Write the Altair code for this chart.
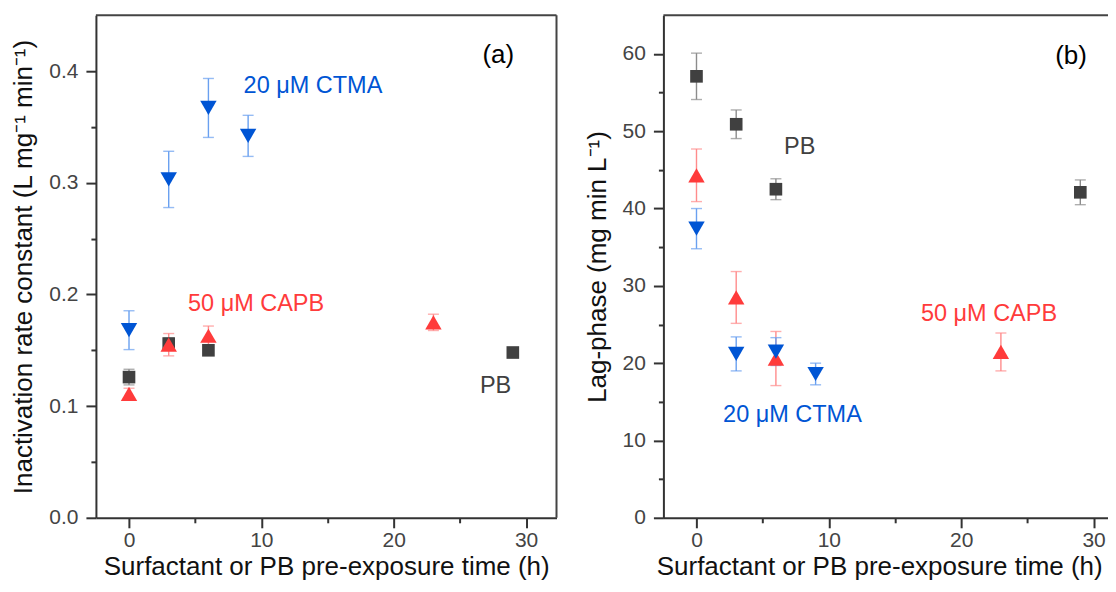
import altair as alt
import pandas as pd

# ---------------- data: panel (a) inactivation rate constant ----------------
time_pb = [0, 3, 6, 29]
time_capb = [0, 3, 6, 23]
time_ctma = [0, 3, 6, 9]

k_pb = [0.126, 0.156, 0.150, 0.148]
k_pb_err = [0.007, 0.005, 0.004, 0.002]
k_capb = [0.111, 0.155, 0.163, 0.175]
k_capb_err = [0.005, 0.010, 0.0087, 0.0073]
k_ctma = [0.168, 0.303, 0.367, 0.342]
k_ctma_err = [0.0174, 0.0252, 0.0264, 0.0184]

# ---------------- data: panel (b) lag-phase ----------------
lag_pb = [57.1, 50.9, 42.5, 42.1]
lag_pb_err = [3.0, 1.85, 1.35, 1.6]
lag_capb = [44.3, 28.5, 20.6, 21.45]
lag_capb_err = [3.4, 3.35, 3.5, 2.45]
lag_ctma = [37.4, 21.2, 21.5, 18.6]
lag_ctma_err = [2.6, 2.2, 1.8, 1.4]

series_names = ["PB", "50 μM CAPB", "20 μM CTMA"]
marker_colors = ["#404040", "#ff3b3b", "#0055d4"]
err_colors = ["#8c8c8c", "#ff8c8c", "#6aa0f0"]
shapes = ["square", "triangle-up", "triangle-down"]
sizes = [160, 270, 270]

# annotation texts and their data positions
labels_a_text = ["(a)", "20 μM CTMA", "50 μM CAPB", "PB"]
labels_a_x = [27.9, 13.9, 9.6, 27.7]
labels_a_y = [0.414, 0.387, 0.1918, 0.1183]
labels_b_text = ["(b)", "PB", "50 μM CAPB", "20 μM CTMA"]
labels_b_x = [28.3, 7.8, 22.1, 7.25]
labels_b_y = [59.7, 48.0, 26.4, 13.3]
label_colors = ["#000000", "#0055d4", "#ff3b3b", "#404040"]
label_colors_b = ["#000000", "#404040", "#ff3b3b", "#0055d4"]
label_sizes = [26, 23.5, 23.5, 23.5]

FONT = "Liberation Sans"
FRAME = "#444444"
W = 461
H = 503


def make_df(times, vals, errs):
    rows = []
    for name, t, v, e in zip(series_names, times, vals, errs):
        for ti, vi, ei in zip(t, v, e):
            rows.append({"series": name, "t": ti, "v": vi, "lo": vi - ei, "hi": vi + ei})
    return pd.DataFrame(rows)


def panel(df, lab_df, ydomain, yvalues, ytitle, ymajor_test, ylabel_fmt, xtitle_x=None):
    xscale = alt.Scale(domain=[-2.5, 32.3], nice=False, zero=False)
    yscale = alt.Scale(domain=ydomain, nice=False, zero=False)
    xaxis_kw = dict(
        values=[0, 5, 10, 15, 20, 25, 30],
        labelExpr="datum.value % 10 === 0 ? datum.label : ''",
        tickSize={"condition": {"test": "datum.value % 10 === 0", "value": 10}, "value": 5},
        title="Surfactant or PB pre-exposure time (h)",
        labelPadding=2, titlePadding=3,
    )
    if xtitle_x is not None:
        xaxis_kw["titleX"] = xtitle_x
    xaxis = alt.Axis(**xaxis_kw)
    yaxis = alt.Axis(
        values=yvalues,
        labelExpr=f"{ymajor_test} ? format(datum.value, '{ylabel_fmt}') : ''",
        tickSize={"condition": {"test": ymajor_test, "value": 10}, "value": 5},
        title=ytitle,
        labelPadding=8, titlePadding=12,
    )
    layers = []
    one = pd.DataFrame({"k": [0]})
    # frame: top and right borders
    layers.append(alt.Chart(one).mark_rule(color=FRAME, strokeWidth=2).encode(
        x=alt.value(0), x2=alt.value(W), y=alt.value(0)))
    layers.append(alt.Chart(one).mark_rule(color=FRAME, strokeWidth=2).encode(
        x=alt.value(W), y=alt.value(0), y2=alt.value(H)))
    for name, ec in zip(series_names, err_colors):
        sub = df[df["series"] == name]
        base = alt.Chart(sub)
        layers.append(base.mark_rule(color=ec, strokeWidth=1.4).encode(
            x=alt.X("t:Q", scale=xscale, axis=xaxis),
            y=alt.Y("lo:Q", scale=yscale, axis=yaxis),
            y2="hi:Q"))
        layers.append(base.mark_tick(color=ec, orient="horizontal", size=11, thickness=1.4).encode(
            x="t:Q", y="lo:Q"))
        layers.append(base.mark_tick(color=ec, orient="horizontal", size=11, thickness=1.4).encode(
            x="t:Q", y="hi:Q"))
    for name, mc, sh, sz in zip(series_names, marker_colors, shapes, sizes):
        sub = df[df["series"] == name]
        layers.append(alt.Chart(sub).mark_point(shape=sh, filled=True, size=sz, color=mc, opacity=1).encode(
            x="t:Q", y="v:Q"))
    layers.append(alt.Chart(lab_df).mark_text(font=FONT, align="center", baseline="middle").encode(
        x="x:Q", y="y:Q", text="text:N",
        color=alt.Color("color:N", scale=None),
        size=alt.Size("size:Q", scale=None)))
    return alt.layer(*layers).properties(width=W, height=H)


df_a = make_df([time_pb, time_capb, time_ctma], [k_pb, k_capb, k_ctma], [k_pb_err, k_capb_err, k_ctma_err])
df_b = make_df([time_pb, time_capb, time_ctma], [lag_pb, lag_capb, lag_ctma], [lag_pb_err, lag_capb_err, lag_ctma_err])

lab_a = pd.DataFrame({"text": labels_a_text, "x": labels_a_x, "y": labels_a_y,
                      "color": label_colors, "size": label_sizes})
lab_b = pd.DataFrame({"text": labels_b_text, "x": labels_b_x, "y": labels_b_y,
                      "color": label_colors_b, "size": label_sizes})

pa = panel(df_a, lab_a, [0, 0.45],
           [0, 0.05, 0.1, 0.15, 0.2, 0.25, 0.3, 0.35, 0.4],
           "Inactivation rate constant (L mg⁻¹ min⁻¹)",
           "round(datum.value*100) % 10 === 0", ".1f")
pb = panel(df_b, lab_b, [0, 65],
           [0, 5, 10, 15, 20, 25, 30, 35, 40, 45, 50, 55, 60],
           "Lag-phase (mg min L⁻¹)",
           "datum.value % 10 === 0", "d", xtitle_x=216)

# negative right padding crops panel (b) at the window edge like the reference
chart = alt.hconcat(pa, pb, spacing=26).properties(
    padding={"left": 2, "top": 6, "right": -17, "bottom": 0}
).configure(font=FONT).configure_view(
    strokeWidth=0
).configure_axis(
    grid=False,
    domainColor="#333333", domainWidth=2,
    tickColor="#333333", tickWidth=2,
    labelFont=FONT, labelFontSize=21, labelColor="#444444",
    titleFont=FONT, titleFontSize=26, titleFontWeight="normal", titleColor="#111111",
)

chart.save("out.html", embed_options={"renderer": "svg", "actions": False})
